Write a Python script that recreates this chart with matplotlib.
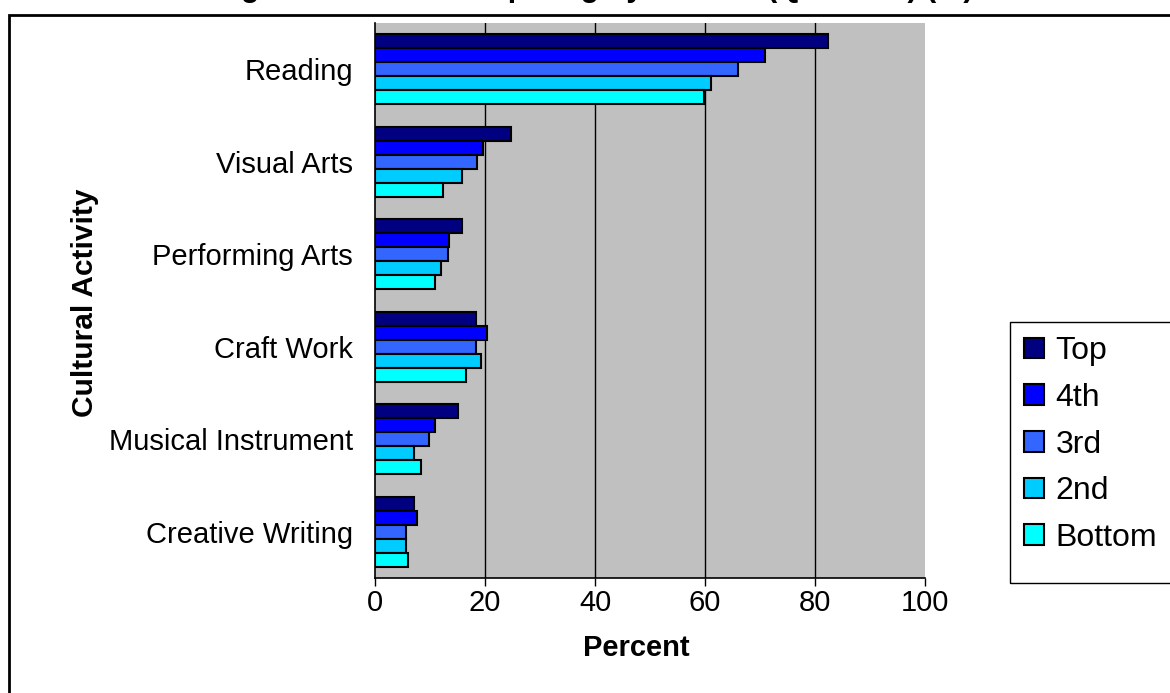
import matplotlib
matplotlib.use('Agg')
import matplotlib.pyplot as plt
from matplotlib.patches import Rectangle
import numpy as np

activities = ['Reading', 'Visual Arts', 'Performing Arts', 'Craft Work',
              'Musical Instrument', 'Creative Writing']
quintiles = ['Top', '4th', '3rd', '2nd', 'Bottom']
top = [82.4, 24.7, 15.9, 18.4, 15.1, 7.1]
fourth = [70.9, 19.7, 13.5, 20.4, 10.9, 7.6]
third = [66.0, 18.5, 13.2, 18.3, 9.9, 5.6]
second = [61.0, 15.9, 12.0, 19.3, 7.1, 5.6]
bottom = [59.9, 12.4, 10.9, 16.5, 8.3, 6.0]
xticks = [0, 20, 40, 60, 80, 100]

series = [top, fourth, third, second, bottom]
colors = ['#000080', '#0000FF', '#3366FF', '#00CCFF', '#00FFFF']

plt.rcParams['font.family'] = ['Liberation Sans', 'DejaVu Sans']

W, H = 1170, 693
fig = plt.figure(figsize=(W / 100, H / 100), dpi=100)

# outer chart frame (runs off the right and bottom edges)
fig.patches.append(Rectangle((9 / W, -0.05), 1.2, 1 - 15 / H + 0.05,
                             transform=fig.transFigure, fill=False,
                             edgecolor='black', linewidth=2))

# legend box, drawn separately so it can be taller than its entries
fig.patches.append(Rectangle((1010 / W, 1 - 583 / H), 170 / W, 261 / H,
                             transform=fig.transFigure, fill=False,
                             edgecolor='black', linewidth=1))

# title sits above the frame, only its descenders fall inside the canvas
fig.text(112 / W, 1 + 4 / H,
         'Percentage of Youth Participating by Income (Quintiles) (%)',
         ha='left', va='baseline', fontsize=22, fontweight='bold')

ax = fig.add_axes([375 / W, 1 - 578 / H, 550 / W, 555 / H])
ax.set_facecolor('#C0C0C0')

y = np.arange(len(activities))
h = 0.152
for i, (name, vals, c) in enumerate(zip(quintiles, series, colors)):
    ax.barh(y + (i - 2) * h, vals, height=h, color=c, edgecolor='black',
            linewidth=1.5, label=name, zorder=3)

ax.set_xlim(0, 100)
ax.set_ylim(len(activities) - 0.5, -0.5)
ax.set_xticks(xticks)
for v in xticks[1:-1]:
    ax.axvline(v, color='black', linewidth=1, zorder=1)
ax.set_yticks(y, activities)

ax.tick_params(axis='y', length=0, pad=16, labelsize=21)
ax.tick_params(axis='x', length=6, width=1, pad=2, labelsize=21)
for s in ['top', 'right']:
    ax.spines[s].set_visible(False)
ax.spines['left'].set_linewidth(1.2)
ax.spines['bottom'].set_linewidth(1.2)

fig.text(636 / W, 1 - 648 / H, 'Percent', ha='center', va='center',
         fontsize=21, fontweight='bold')
fig.text(85 / W, 1 - 303 / H, 'Cultural Activity', ha='center', va='center',
         rotation=90, fontsize=21.5, fontweight='bold')

ax.legend(loc='upper left', bbox_to_anchor=(1010 / W, 1 - 322 / H),
          bbox_transform=fig.transFigure, borderaxespad=0,
          fontsize=23, frameon=False,
          handlelength=0.62, handleheight=0.62, handletextpad=0.35,
          labelspacing=0.52, borderpad=0.45)

fig.savefig('out.png', dpi=100)
